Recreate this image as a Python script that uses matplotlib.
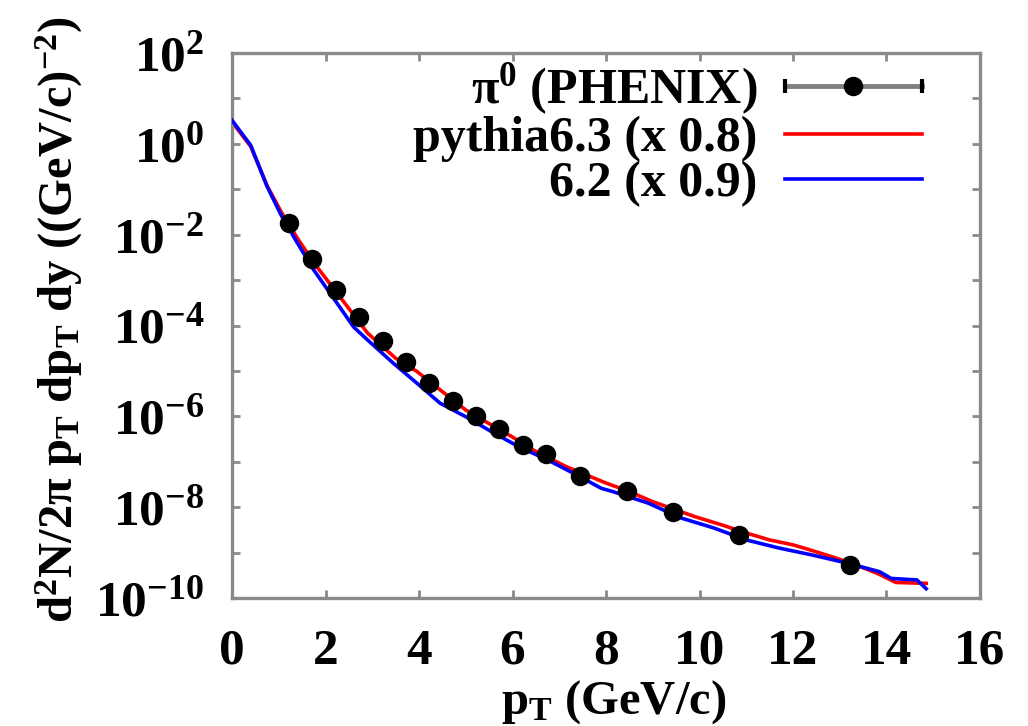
import matplotlib
matplotlib.use("Agg")
import matplotlib.pyplot as plt
from matplotlib.lines import Line2D
from matplotlib.legend_handler import HandlerLine2D, HandlerTuple
from matplotlib.ticker import FixedLocator, FuncFormatter, NullLocator
import numpy as np

# PHENIX pi0 points
pt_data = [1.22, 1.72, 2.22, 2.72, 3.22, 3.72, 4.22, 4.72, 5.22, 5.72,
           6.22, 6.72, 7.44, 8.44, 9.44, 10.85, 13.23]
yield_data = [1.8e-2, 2.9e-3, 6.0e-4, 1.56e-4, 4.6e-5, 1.55e-5, 5.5e-6, 2.2e-6,
              1.02e-6, 5.2e-7, 2.3e-7, 1.46e-7, 4.9e-8, 2.3e-8, 7.7e-9, 2.4e-9, 5.3e-10]

# pythia 6.3 (x 0.8)
pt_63 = [0.05, 0.4, 0.75, 1.05, 1.4, 1.75, 2.2, 2.9, 3.5, 3.95, 4.5, 5.0, 5.5,
         6.0, 6.45, 7.15, 8.0, 8.5, 9.0, 9.9, 10.5, 11.0, 11.5, 12.0, 12.3,
         12.8, 13.3, 13.8, 14.2, 14.85]
yield_63 = [2.6, 0.87, 0.12, 3.2e-2, 8.3e-3, 2.4e-3, 6.0e-4, 6.8e-5, 1.9e-5,
            9.8e-6, 3.5e-6, 1.38e-6, 6.9e-7, 3.5e-7, 1.8e-7, 7.8e-8, 3.4e-8,
            2.2e-8, 1.32e-8, 6.2e-9, 4.0e-9, 2.7e-9, 1.9e-9, 1.48e-9, 1.2e-9,
            8.3e-10, 5.6e-10, 3.5e-10, 2.2e-10, 2.1e-10]

# pythia 6.2 (x 0.9)
pt_62 = [0.0, 0.4, 0.75, 1.05, 1.4, 1.75, 2.15, 2.6, 2.9, 3.45, 4.0, 4.45, 5.0,
         5.6, 6.15, 6.75, 7.3, 7.9, 8.15, 8.9, 9.6, 10.3, 11.0, 11.7, 12.4,
         13.15, 13.85, 14.1, 14.65, 14.85]
yield_62 = [3.3, 0.93, 0.115, 2.7e-2, 6.5e-3, 1.66e-3, 4.3e-4, 9.3e-5, 4.8e-5,
            1.48e-5, 4.9e-6, 1.95e-6, 9.8e-7, 4.3e-7, 2.1e-7, 1.1e-7, 5.6e-8,
            2.6e-8, 2.2e-8, 1.23e-8, 5.8e-9, 3.5e-9, 1.9e-9, 1.26e-9, 8.9e-10,
            5.9e-10, 3.8e-10, 2.7e-10, 2.5e-10, 1.6e-10]

labels = ["π$^{0}$ (PHENIX)", "pythia6.3 (x 0.8)", "6.2 (x 0.9)"]
x_ticks = [0, 2, 4, 6, 8, 10, 12, 14, 16]
y_exponents = list(range(-10, 3))

plt.rcParams.update({
    "font.family": ["Liberation Serif", "DejaVu Serif"],
    "font.weight": "bold",
    "axes.labelweight": "bold",
    "mathtext.fontset": "custom",
    "mathtext.rm": "Liberation Serif:bold",
    "mathtext.it": "Liberation Serif:italic:bold",
    "mathtext.bf": "Liberation Serif:bold",
    "mathtext.default": "rm",
})

FRAME = "#8a8a8a"

fig = plt.figure(figsize=(10.28, 7.26), dpi=100)
fig.subplots_adjust(left=0.2257, right=0.9533, bottom=0.1763, top=0.927)
ax = fig.add_subplot(111)

red, = ax.plot(pt_63, yield_63, color="#ff0000", lw=2.6, zorder=2)
blue, = ax.plot(pt_62, yield_62, color="#0000ff", lw=2.6, zorder=3)
ax.plot(pt_data, yield_data, "o", color="black", ms=13, zorder=4)

ax.set_yscale("log")
ax.set_xlim(0, 16)
ax.set_ylim(1e-10, 1e2)

ax.xaxis.set_major_locator(FixedLocator(x_ticks))
ax.xaxis.set_minor_locator(NullLocator())
ax.yaxis.set_major_locator(FixedLocator([10.0 ** e for e in y_exponents]))
ax.yaxis.set_minor_locator(NullLocator())


def fmt_y(v, pos):
    e = int(round(np.log10(v)))
    return f"$10^{{{e}}}$" if e % 2 == 0 else ""


ax.yaxis.set_major_formatter(FuncFormatter(fmt_y))
ax.xaxis.set_major_formatter(FuncFormatter(lambda v, p: f"{int(v)}"))

for s in ax.spines.values():
    s.set_color(FRAME)
    s.set_linewidth(2.4)
ax.tick_params(which="both", direction="in", top=True, right=True,
               length=6, width=2, color=FRAME, labelsize=37)
ax.tick_params(axis="x", pad=22)
ax.tick_params(axis="y", pad=20)

ax.set_xlabel("p$_{T}$ (GeV/c)", fontsize=35)
ax.xaxis.set_label_coords(0.51, -0.147)
ax.set_ylabel("d$^{2}$N/2π p$_{T}$ dp$_{T}$ dy ((GeV/c)$^{-2}$)", fontsize=35)
ax.yaxis.set_label_coords(-0.197, 0.51)

# legend proxies
gray_line = Line2D([], [], color="#808080", lw=3.5)
caps = Line2D([], [], color="black", lw=0, marker="|", ms=10, mew=3)
dot = Line2D([], [], color="black", lw=0, marker="o", ms=13)
leg = ax.legend([(gray_line, caps, dot), red, blue], labels,
                handler_map={tuple: HandlerTuple(ndivide=1, pad=0),
                             caps: HandlerLine2D(numpoints=2, marker_pad=0)},
                loc="upper right", bbox_to_anchor=(0.9225, 0.985),
                frameon=False, fontsize=36, markerfirst=False,
                handlelength=2.75, handletextpad=0.55, labelspacing=-0.02,
                borderpad=0, borderaxespad=0)

fig.savefig("out.png", dpi=100)
